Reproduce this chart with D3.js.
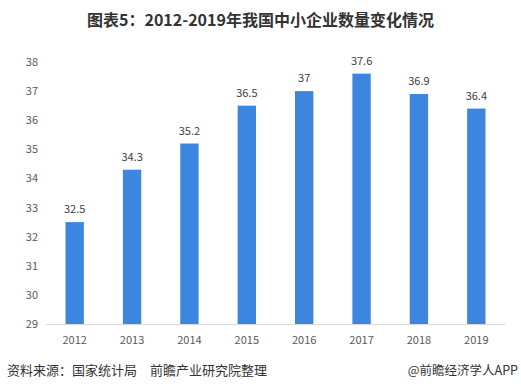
<!DOCTYPE html>
<html lang="zh">
<head>
<meta charset="UTF-8">
<script src="https://d3js.org/d3.v7.min.js"></script>
<style>
  * { margin: 0; padding: 0; }
  body { background: #fff; font-family: "Noto Sans CJK SC", "Noto Sans", sans-serif; }
</style>
</head>
<body>
<div id="chart"></div>
<script>
const years = ["2012", "2013", "2014", "2015", "2016", "2017", "2018", "2019"];
const counts = [32.5, 34.3, 35.2, 36.5, 37, 37.6, 36.9, 36.4];
const yTicks = [29, 30, 31, 32, 33, 34, 35, 36, 37, 38];

const width = 521, height = 388;
const svg = d3.select("#chart").append("svg")
    .attr("width", width)
    .attr("height", height);

const x = d3.scaleBand().domain(years).range([46, 505]).paddingInner(0.68).paddingOuter(0.34);
const y = d3.scaleLinear().domain([29, 38]).range([324, 62]);

// title
svg.append("text")
    .attr("x", width / 2)
    .attr("y", 26)
    .attr("text-anchor", "middle")
    .attr("font-size", "16px")
    .attr("font-weight", "bold")
    .attr("fill", "#333")
    .text("图表5：2012-2019年我国中小企业数量变化情况");

// y tick labels
svg.selectAll(".ytick")
    .data(yTicks)
    .enter()
    .append("text")
    .attr("x", 38)
    .attr("y", d => y(d) + 4)
    .attr("text-anchor", "end")
    .attr("font-size", "11px")
    .attr("fill", "#595959")
    .text(d => d);

// baseline
svg.append("line")
    .attr("x1", 46).attr("x2", 505)
    .attr("y1", y(29) + 0.5).attr("y2", y(29) + 0.5)
    .attr("stroke", "#d9d9d9");

svg.selectAll("rect")
    .data(counts)
    .enter()
    .append("rect")
    .attr("x", (d, i) => x(years[i]))
    .attr("y", d => y(d))
    .attr("width", x.bandwidth())
    .attr("height", d => y(29) - y(d))
    .attr("fill", "#3d86e0");

svg.selectAll(".val")
    .data(counts)
    .enter()
    .append("text")
    .attr("x", (d, i) => x(years[i]) + x.bandwidth() / 2)
    .attr("y", d => y(d) - 9)
    .attr("text-anchor", "middle")
    .attr("font-size", "11px")
    .attr("fill", "#404040")
    .text(d => d);

svg.selectAll(".xtick")
    .data(years)
    .enter()
    .append("text")
    .attr("x", d => x(d) + x.bandwidth() / 2)
    .attr("y", 344)
    .attr("text-anchor", "middle")
    .attr("font-size", "11px")
    .attr("fill", "#595959")
    .text(d => d);

// footer
svg.append("text")
    .attr("x", 7)
    .attr("y", 375)
    .attr("font-size", "13px")
    .attr("fill", "#333")
    .text("资料来源：国家统计局　前瞻产业研究院整理");

svg.append("text")
    .attr("x", 518)
    .attr("y", 375)
    .attr("text-anchor", "end")
    .attr("font-size", "12.5px")
    .attr("fill", "#333")
    .text("@前瞻经济学人APP");
</script>
</body>
</html>
